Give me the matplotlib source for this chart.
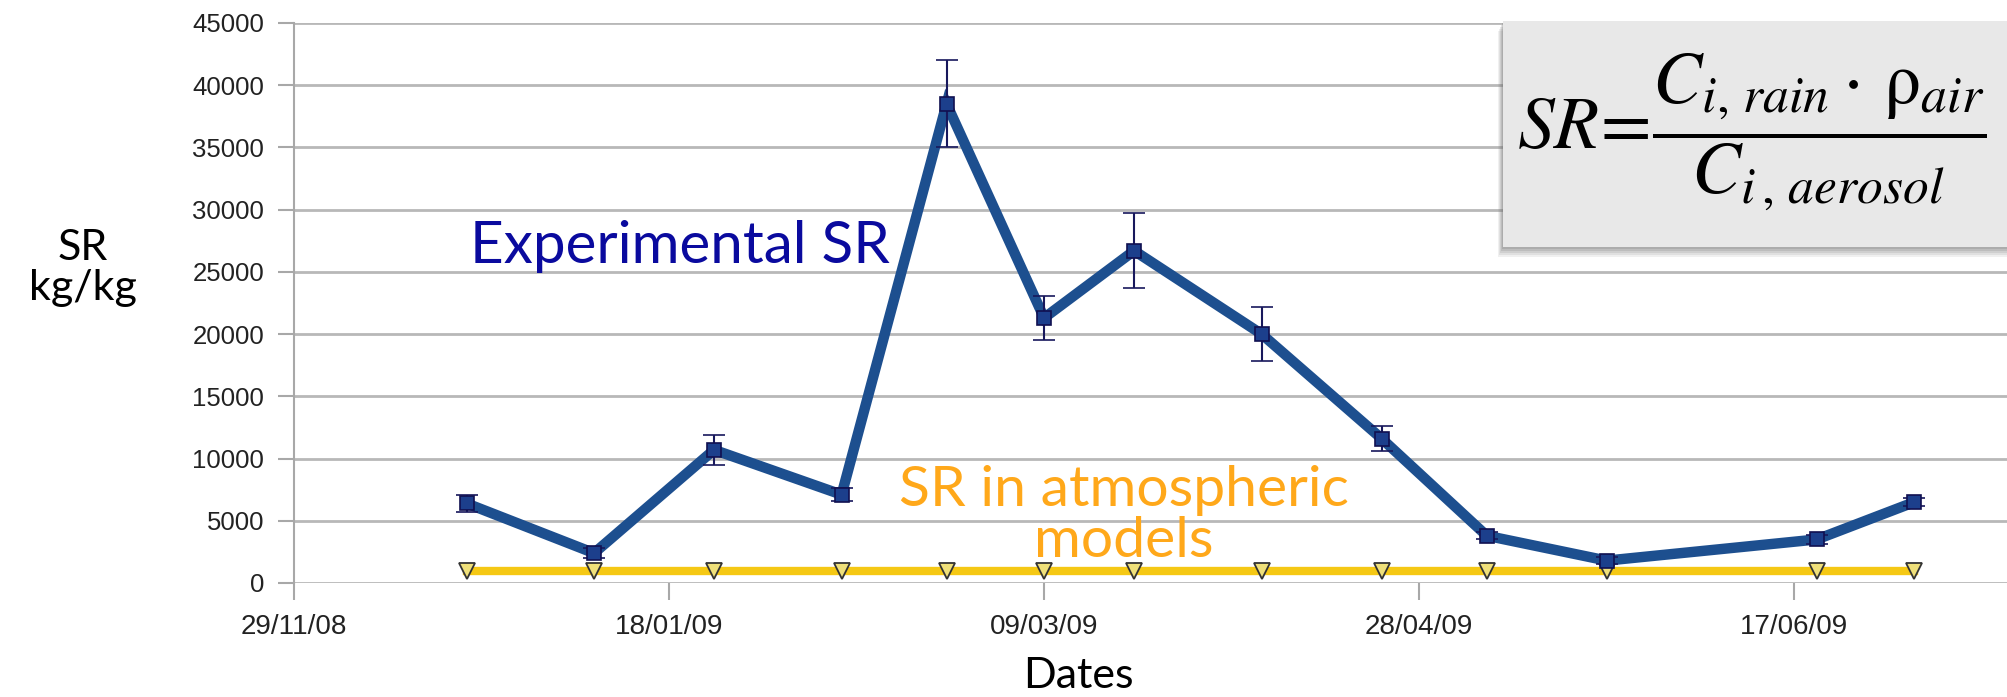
import matplotlib
matplotlib.use("Agg")
import matplotlib.pyplot as plt
from matplotlib.patches import Rectangle
from datetime import datetime, timedelta

# ---- data ----
dates = ["22/12/08", "08/01/09", "24/01/09", "10/02/09", "24/02/09", "09/03/09",
         "21/03/09", "07/04/09", "23/04/09", "07/05/09", "23/05/09", "20/06/09", "03/07/09"]
sr_exp = [6400, 2400, 10700, 7100, 38500, 21300, 26700, 20000, 11600, 3800, 1800, 3500, 6500]
sr_err = [700, 400, 1200, 500, 3500, 1800, 3000, 2200, 1000, 300, 250, 350, 300]
sr_model = [1000] * 13
xtick_labels = ["29/11/08", "18/01/09", "09/03/09", "28/04/09", "17/06/09"]
yticks = [0, 5000, 10000, 15000, 20000, 25000, 30000, 35000, 40000, 45000]

fmt = "%d/%m/%y"
x = [datetime.strptime(d, fmt) for d in dates]
xt = [datetime.strptime(d, fmt) for d in xtick_labels]

W, H = 2008, 697
plt.rcParams["mathtext.fontset"] = "stix"
fig = plt.figure(figsize=(W / 100, H / 100), dpi=100)
ax = fig.add_axes([294 / W, 1 - 583 / H, (W - 294) / W, (583 - 23) / H])

ax.set_xlim(xt[0], xt[0] + timedelta(days=228.5))
ax.set_ylim(0, 45000)
ax.set_yticks(yticks)
ax.set_yticklabels([str(v) for v in yticks])
ax.set_xticks(xt)
ax.set_xticklabels(xtick_labels)
ax.grid(axis="y", color="#b8b8b8", linewidth=2)
ax.set_axisbelow(True)
for s in ["top", "right", "bottom"]:
    ax.spines[s].set_visible(False)
ax.spines["left"].set_color("#a8a8a8")
ax.spines["left"].set_linewidth(1.5)
ax.tick_params(axis="y", length=11.5, width=1.5, color="#a8a8a8", labelsize=18.5,
               labelcolor="#222222", pad=10)
ax.tick_params(axis="x", length=12, width=1.5, color="#a8a8a8", labelsize=20,
               labelcolor="#222222", pad=10.5)
for lab in ax.get_xticklabels() + ax.get_yticklabels():
    lab.set_family("Liberation Sans")

# model line
ax.plot(x, sr_model, color="#f5c814", linewidth=6, zorder=3)
ax.plot(x, sr_model, linestyle="none", marker="v", markersize=12,
        markerfacecolor="#efe07a", markeredgecolor="#333333", markeredgewidth=1.3, zorder=4)

# experimental
ax.plot(x, sr_exp, color="#1d4f8f", linewidth=7.5, zorder=5, solid_joinstyle="miter")
ax.errorbar(x, sr_exp, yerr=sr_err, fmt="s", markersize=10, markerfacecolor="#1c3f8c",
            markeredgecolor="#101050", markeredgewidth=1.2, ecolor="#18185c",
            elinewidth=1.5, capsize=8, capthick=1.5, zorder=6)

font_ann = "Lato"
fig.text(680 / W, 1 - 263 / H, "Experimental SR", color="#0a0a9e", fontsize=42,
         family=font_ann, ha="center", va="baseline")
fig.text(1124 / W, 1 - 506 / H, "SR in atmospheric", color="#ffa81a",
         fontsize=41, family=font_ann, ha="center", va="baseline")
fig.text(1124 / W, 1 - 557 / H, "models", color="#ffa81a",
         fontsize=41, family=font_ann, ha="center", va="baseline")
fig.text(1078 / W, 1 - 688 / H, "Dates", color="black", fontsize=31, family=font_ann,
         ha="center", va="baseline")
fig.text(83 / W, 1 - 260 / H, "SR", color="black", fontsize=31, family=font_ann,
         ha="center", va="baseline")
fig.text(83 / W, 1 - 300 / H, "kg/kg", color="black", fontsize=31, family=font_ann,
         ha="center", va="baseline")

# formula box with soft shadow
for i, a in enumerate([0.10, 0.12, 0.15, 0.18, 0.22]):
    off = 10 - 2 * i
    sh = Rectangle(((1503 - off * 0.5) / W, 1 - (247 + off) / H),
                   (W - 1503 + off) / W, (247 - 21) / H,
                   transform=fig.transFigure, facecolor="#707070", edgecolor="none",
                   alpha=a, zorder=8)
    fig.patches.append(sh)
box = Rectangle((1503 / W, 1 - 247 / H), (W - 1503) / W, (247 - 21) / H,
                transform=fig.transFigure, facecolor="#e8e8e8", edgecolor="none", zorder=9)
fig.patches.append(box)
fig.text(1752 / W, 1 - 132 / H,
         r"$SR\!=\!\dfrac{C_{i,\,rain}\cdot\,\mathrm{\rho}_{air}}{C_{i\,,\,aerosol}}$",
         fontsize=53, ha="center", va="center", color="black", zorder=10)

fig.savefig("out.png", dpi=100)
